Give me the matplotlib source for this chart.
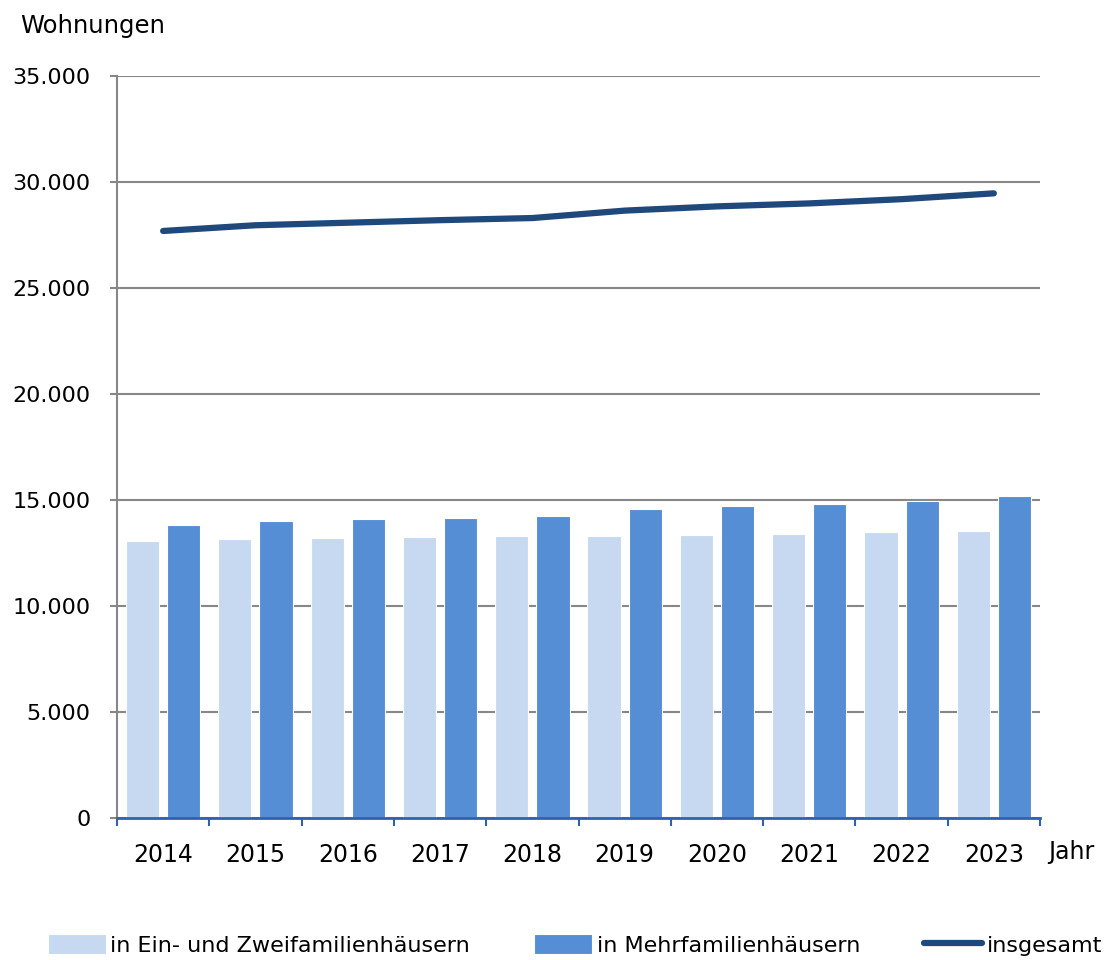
import numpy as np
import matplotlib.pyplot as plt
from matplotlib.ticker import FuncFormatter, FixedLocator

jahre = ['2014', '2015', '2016', '2017', '2018', '2019', '2020', '2021', '2022', '2023']
ein_zwei = [13070, 13160, 13220, 13255, 13290, 13320, 13365, 13410, 13475, 13540]
mehr = [13820, 14010, 14090, 14150, 14245, 14560, 14715, 14810, 14965, 15175]
insgesamt = [27690, 27960, 28080, 28200, 28300, 28650, 28850, 28990, 29190, 29465]

c_light = '#C6D9F1'
c_dark = '#558ED5'
c_line = '#1F497D'
c_grid = '#878787'
c_axis = '#2E62B0'

plt.rcParams['font.family'] = ['DejaVu Sans']

fig = plt.figure(figsize=(11.1, 9.6), dpi=100)
ax = fig.add_axes([117 / 1110, 1 - 818 / 960, (1040 - 117) / 1110, (818 - 76) / 960])
ax.set_axisbelow(True)

x = np.arange(len(jahre))
w = 0.36
b1 = ax.bar(x - 0.223, ein_zwei, width=w, color=c_light, edgecolor='white', linewidth=0.8,
            label='in Ein- und Zweifamilienhäusern', zorder=3)
b2 = ax.bar(x + 0.223, mehr, width=w, color=c_dark, edgecolor='white', linewidth=0.8,
            label='in Mehrfamilienhäusern', zorder=3)
l1, = ax.plot(x, insgesamt, color=c_line, linewidth=4.5, solid_capstyle='round',
              label='insgesamt', zorder=4)

ax.set_xlim(-0.5, len(jahre) - 0.5)
ax.set_ylim(0, 35000)
ax.set_yticks(np.arange(0, 35001, 5000))
ax.yaxis.set_major_formatter(FuncFormatter(lambda v, p: f'{int(v):,}'.replace(',', '.')))
ax.grid(axis='y', color=c_grid, linewidth=1.5)
ax.tick_params(axis='y', length=5, width=1.5, color=c_grid, labelsize=16, pad=14)

ax.xaxis.set_major_locator(FixedLocator(np.arange(-0.5, len(jahre), 1.0)))
ax.xaxis.set_minor_locator(FixedLocator(x))
ax.set_xticklabels([], minor=False)
ax.set_xticklabels(jahre, minor=True)
ax.tick_params(axis='x', which='major', length=6, width=1.5, color=c_axis)
ax.tick_params(axis='x', which='minor', length=0, labelsize=17, pad=18)

for s in ['top', 'right']:
    ax.spines[s].set_visible(False)
ax.spines['left'].set_color(c_grid)
ax.spines['left'].set_linewidth(1.5)
ax.spines['bottom'].set_color(c_axis)
ax.spines['bottom'].set_linewidth(2)
ax.spines['bottom'].set_zorder(5)

fig.text(20 / 1110, 1 - 26 / 960, 'Wohnungen', fontsize=17.5, va='center', ha='left')
fig.text(1048 / 1110, 1 - 852 / 960, 'Jahr', fontsize=17, va='center', ha='left')

fig.legend(handles=[b1, b2, l1], loc='center', bbox_to_anchor=(0.518, 1 - 945 / 960), ncol=3,
           frameon=False, fontsize=16, handlelength=2.6, handleheight=1.0, handletextpad=0.2,
           columnspacing=2.9)

fig.savefig('out.png', dpi=100)
